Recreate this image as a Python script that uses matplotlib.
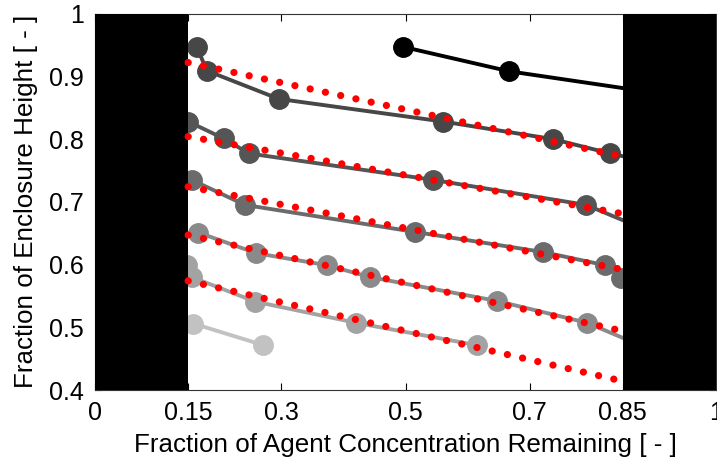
import matplotlib
matplotlib.use("Agg")
import matplotlib.pyplot as plt

plt.rcParams['font.family'] = ['Liberation Sans', 'DejaVu Sans']

# measured profiles, darkest to lightest (some points sit behind the black bands)
black_x = [0.496, 0.667, 0.90]
black_y = [0.947, 0.908, 0.874]

rows_x = [
    [0.164, 0.180, 0.296, 0.560, 0.737, 0.830, 0.90],
    [0.150, 0.207, 0.248, 0.544, 0.791, 0.90],
    [0.1556, 0.2415, 0.515, 0.721, 0.821, 0.847],
    [0.1664, 0.260, 0.373, 0.443, 0.647, 0.793, 0.90],
    [0.148, 0.1556, 0.2577, 0.421, 0.6146],
    [0.158, 0.271],
]
rows_y = [
    [0.947, 0.909, 0.864, 0.828, 0.800, 0.777, 0.762],
    [0.828, 0.801, 0.777, 0.735, 0.695, 0.650],
    [0.735, 0.695, 0.652, 0.620, 0.599, 0.579],
    [0.651, 0.618, 0.599, 0.580, 0.542, 0.507, 0.462],
    [0.599, 0.580, 0.541, 0.507, 0.4715],
    [0.506, 0.4715],
]
row_colors = ['#474747', '#555555', '#6b6b6b', '#8a8a8a', '#a3a3a3', '#c2c2c2']

# linear fits (red dotted), value at x=0.15 and x=0.85
fit_x = [0.15, 0.85]
fit_y = [
    [0.922, 0.772],
    [0.804, 0.681],
    [0.724, 0.592],
    [0.647, 0.494],
    [0.574, 0.414],
]

xticks = [0, 0.15, 0.3, 0.5, 0.7, 0.85, 1]
yticks = [0.4, 0.5, 0.6, 0.7, 0.8, 0.9, 1]

fig = plt.figure(figsize=(7.17, 4.68), dpi=100)
ax = fig.add_axes([95 / 717, 78 / 468, 621 / 717, 376.4 / 468])

ax.plot(black_x, black_y, '-o', color='black', lw=2.8, ms=14, zorder=3)
for xs, ys, c in zip(rows_x, rows_y, row_colors):
    ax.plot(xs, ys, '-o', color=c, lw=2.8, ms=14, zorder=3)

# black bands hide the edges of the domain
ax.axvspan(0, 0.15, color='black', zorder=5, lw=0)
ax.axvspan(0.85, 1, color='black', zorder=5, lw=0)

for ys in fit_y:
    ax.plot(fit_x, ys, color='red', lw=5.2, linestyle=(0, (0.01, 2.15)),
            dash_capstyle='round', zorder=6)

ax.set_xlim(0, 1)
ax.set_ylim(0.4, 1)
ax.set_xticks(xticks)
ax.set_xticklabels(['0', '0.15', '0.3', '0.5', '0.7', '0.85', '1'])
ax.set_yticks(yticks)
ax.set_yticklabels(['0.4', '0.5', '0.6', '0.7', '0.8', '0.9', '1'])
ax.tick_params(direction='in', top=True, right=True, length=5, width=0.8,
               labelsize=18, pad=8)
for s in ax.spines.values():
    s.set_linewidth(0.8)
    s.set_color('#333333')

ax.set_xlabel('Fraction of Agent Concentration Remaining [ - ]', fontsize=18.7, labelpad=6)
ax.set_ylabel('Fraction of Enclosure Height [ - ]', fontsize=18.7, labelpad=8)

fig.savefig('out.png', dpi=100)
